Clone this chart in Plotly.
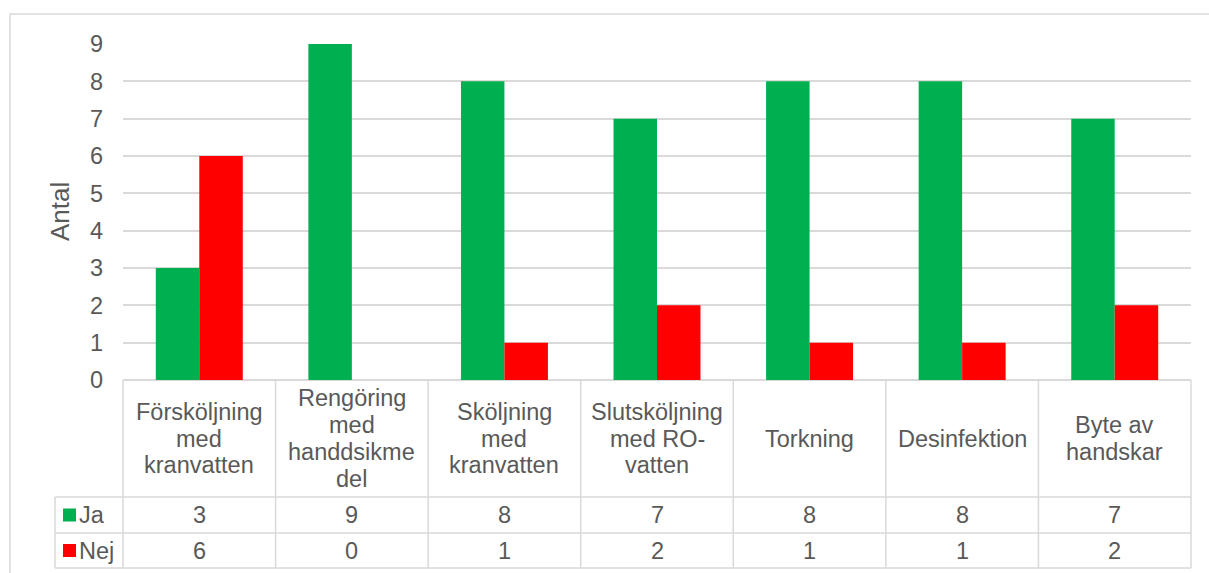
import plotly.graph_objects as go

# Steps of the hand hygiene routine and the number of answers per step
categories = [
    "Försköljning<br>med<br>kranvatten",
    "Rengöring<br>med<br>handdsikme<br>del",
    "Sköljning<br>med<br>kranvatten",
    "Slutsköljning<br>med RO-<br>vatten",
    "Torkning",
    "Desinfektion",
    "Byte av<br>handskar",
]
ja = [3, 9, 8, 7, 8, 8, 7]
nej = [6, 0, 1, 2, 1, 1, 2]
series_names = ["Ja", "Nej"]
series_colors = ["#00B050", "#FF0000"]
y_ticks = list(range(0, 10))

W, H = 1209, 573
L, R, T, B = 123, 18, 44, 193
PLOT_W = W - L - R
PLOT_H = H - T - B
TEXT = "#595959"
GRID = "#D9D9D9"
FONT = "Liberation Sans, Arial, sans-serif"
FS = 23.5
LINE_H = 27


def px(x):
    return (x - L) / PLOT_W


def py(y):
    return (H - B - y) / PLOT_H


x_idx = list(range(len(categories)))

fig = go.Figure()
for name, vals, col in zip(series_names, [ja, nej], series_colors):
    fig.add_trace(go.Bar(x=x_idx, y=vals, name=name, marker=dict(color=col, line=dict(width=0))))

shapes = []
annotations = []

# Outer chart frame
shapes.append(dict(type="rect", xref="paper", yref="paper",
                   x0=px(10), x1=px(W + 20), y0=py(14), y1=py(H + 20),
                   line=dict(color=GRID, width=1.5), fillcolor="rgba(0,0,0,0)", layer="below"))

# Data table grid
cell_w = PLOT_W / len(categories)
y_top, y_ja, y_nej, y_bot = H - B, 497, 533, 568
left_col = 55
for k in range(len(categories) + 1):
    x = L + k * cell_w
    shapes.append(dict(type="line", xref="paper", yref="paper",
                       x0=px(x), x1=px(x), y0=py(y_top), y1=py(y_bot),
                       line=dict(color=GRID, width=1.5)))
for yy in (y_ja, y_nej, y_bot):
    shapes.append(dict(type="line", xref="paper", yref="paper",
                       x0=px(left_col), x1=px(L + PLOT_W), y0=py(yy), y1=py(yy),
                       line=dict(color=GRID, width=1.5)))
shapes.append(dict(type="line", xref="paper", yref="paper",
                   x0=px(left_col), x1=px(left_col), y0=py(y_ja), y1=py(y_bot),
                   line=dict(color=GRID, width=1.5)))

# Header row: category names, one annotation per text line for tight spacing
header_mid = (y_top + y_ja) / 2
for i, cat in enumerate(categories):
    lines = cat.split("<br>")
    n = len(lines)
    for j, line in enumerate(lines):
        yc = header_mid + (j - (n - 1) / 2) * LINE_H
        annotations.append(dict(x=i, xref="x", y=py(yc), yref="paper",
                                text=line, showarrow=False, xanchor="center", yanchor="middle",
                                font=dict(family=FONT, size=FS, color=TEXT)))

# Value rows with legend keys
rows = [(ja, (y_ja + y_nej) / 2), (nej, (y_nej + y_bot) / 2)]
for (vals, ymid), name, col in zip(rows, series_names, series_colors):
    for i, v in enumerate(vals):
        annotations.append(dict(x=i, xref="x", y=py(ymid), yref="paper",
                                text=str(v), showarrow=False, xanchor="center", yanchor="middle",
                                font=dict(family=FONT, size=FS, color=TEXT)))
    shapes.append(dict(type="rect", xref="paper", yref="paper",
                       x0=px(63), x1=px(76), y0=py(ymid - 6.5), y1=py(ymid + 6.5),
                       fillcolor=col, line=dict(width=0)))
    annotations.append(dict(x=px(77), xref="paper", y=py(ymid), yref="paper",
                            text=name, showarrow=False, xanchor="left", yanchor="middle",
                            font=dict(family=FONT, size=FS, color=TEXT)))

# Y axis title
annotations.append(dict(x=px(60), xref="paper", y=0.5, yref="paper", text="Antal",
                        textangle=-90, showarrow=False, xanchor="center", yanchor="middle",
                        font=dict(family=FONT, size=26, color=TEXT)))

fig.update_layout(
    width=W, height=H,
    margin=dict(l=L, r=R, t=T, b=B),
    paper_bgcolor="white", plot_bgcolor="white",
    barmode="group", bargap=0.43, bargroupgap=0,
    showlegend=False,
    shapes=shapes, annotations=annotations,
    font=dict(family=FONT, color=TEXT),
    xaxis=dict(range=[-0.5, len(categories) - 0.5], showticklabels=False,
               showgrid=False, zeroline=False, showline=False, fixedrange=True),
    yaxis=dict(range=[0, 9], tickvals=y_ticks, showgrid=True, gridcolor=GRID, gridwidth=1.5,
               zeroline=True, zerolinecolor=GRID, zerolinewidth=1.5, showline=False,
               ticks="", ticklabelstandoff=19,
               tickfont=dict(family=FONT, size=FS, color=TEXT), fixedrange=True),
)

fig.write_html("out.html")
